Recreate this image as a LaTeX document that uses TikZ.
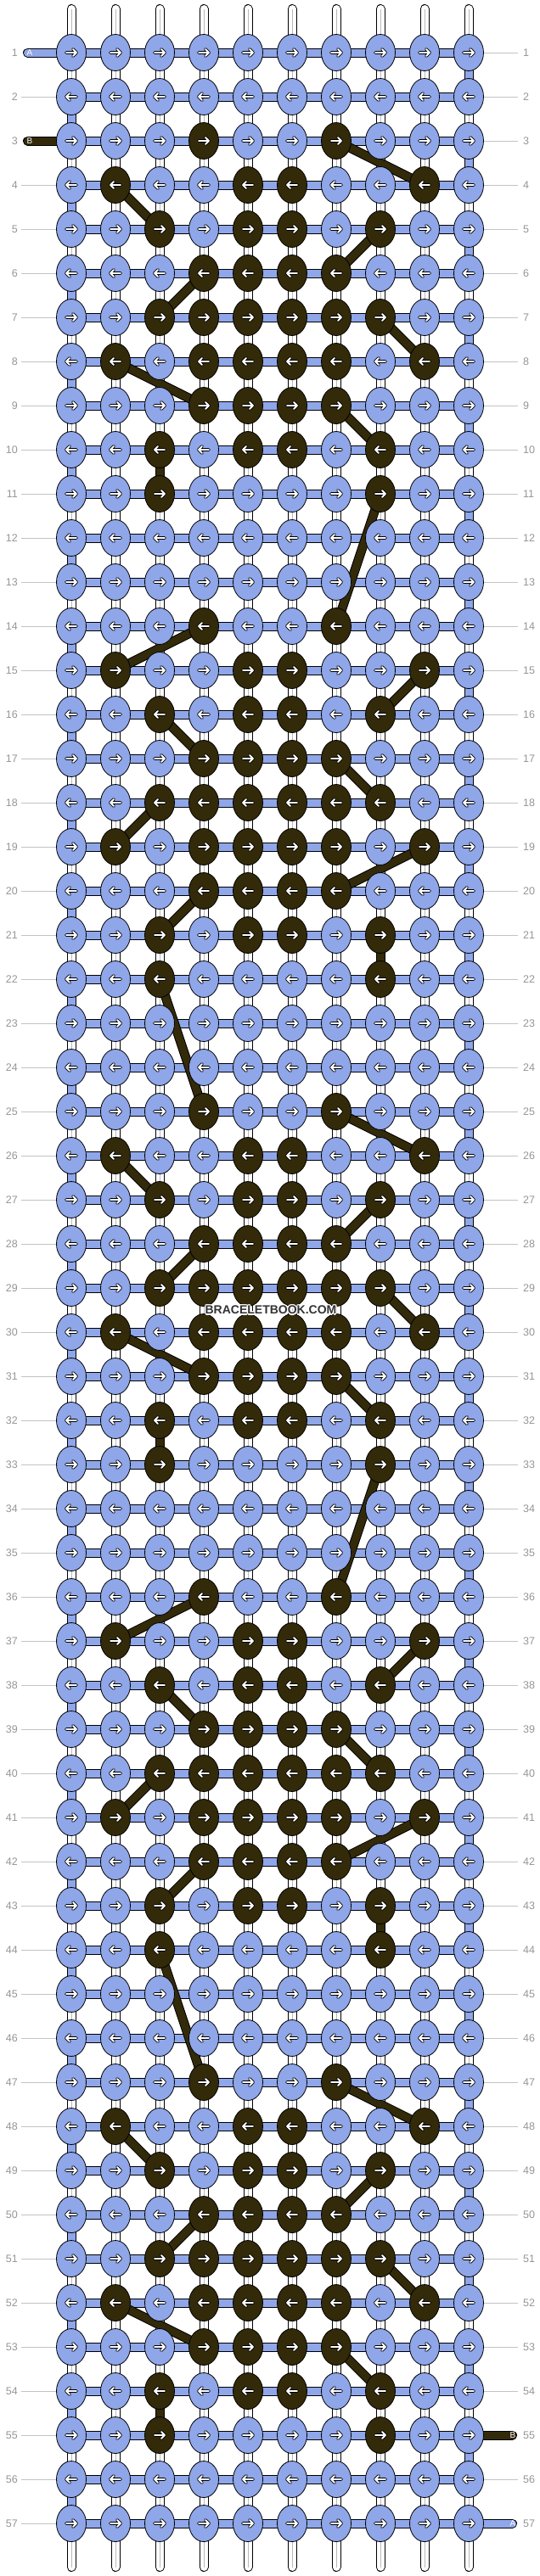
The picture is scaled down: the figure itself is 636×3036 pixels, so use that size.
\documentclass[tikz,border=0pt]{standalone}
\usepackage{fontspec}
\setmainfont{Liberation Sans}
\usetikzlibrary{shapes.geometric}
\pgfdeclarelayer{bg}
\pgfsetlayers{bg,main}
\definecolor{blueK}{RGB}{143,166,232}
\definecolor{darkK}{RGB}{51,42,10}
\definecolor{labgrey}{RGB}{150,150,150}
\definecolor{linegrey}{RGB}{195,195,195}
\definecolor{warpline}{RGB}{185,185,185}
\definecolor{wmgrey}{RGB}{51,51,51}
\newcommand\getpat[1]{\ifcase#1\relax \gdef\curpat{0,4,7}\or\gdef\curpat{0,2,5,6,9}\or\gdef\curpat{0,3,5,6,8}\or\gdef\curpat{0,4,5,6,7}\or\gdef\curpat{0,3,4,5,6,7,8}\or\gdef\curpat{0,2,4,5,6,7,9}\or\gdef\curpat{0,4,5,6,7}\or\gdef\curpat{0,3,5,6,8}\or\gdef\curpat{0,3,8}\else\gdef\curpat{0}\fi}
\newcommand\wmhalo[1]{\leavevmode\rlap{\color{white}%
 \rlap{\kern1.2pt#1}\rlap{\kern-1.2pt#1}\rlap{\raisebox{1.2pt}{#1}}\rlap{\raisebox{-1.2pt}{#1}}%
 \rlap{\kern0.85pt\raisebox{0.85pt}{#1}}\rlap{\kern-0.85pt\raisebox{0.85pt}{#1}}%
 \rlap{\kern0.85pt\raisebox{-0.85pt}{#1}}\rlap{\kern-0.85pt\raisebox{-0.85pt}{#1}}}#1}
\tikzset{
 knot/.style={ellipse, draw=black, line width=0.8pt, minimum width=35pt, minimum height=43pt, inner sep=0pt, outer sep=0pt},
 rowlab/.style={text=labgrey, font=\fontsize{12.5}{14}\selectfont, inner sep=0pt},
 rowline/.style={draw=linegrey, line width=1pt},
 warpout/.style={draw=black, line width=11pt, line cap=round},
 warpin/.style={draw=white, line width=9pt, line cap=round},
 warpmid/.style={draw=warpline, line width=1pt},
 barout/.style={draw=black, line width=11pt},
 barA/.style={draw=blueK, line width=9pt},
 barB/.style={draw=darkK, line width=9pt},
 stubout/.style={draw=black, line width=11pt, line cap=round},
 stubA/.style={draw=blueK, line width=9pt, line cap=round},
 stubB/.style={draw=darkK, line width=9pt, line cap=round},
 stublab/.style={text=white, font=\fontsize{10}{12}\selectfont, inner sep=0pt},
 wm/.style={text=wmgrey, font=\fontsize{14}{16}\selectfont\bfseries, inner sep=0pt},
 arr/.pic={
  \draw[black, line width=3.8pt, line join=round, line cap=round] (-6,0)--(6,0) (2,-4)--(6,0)--(2,4);
  \draw[white, line width=1.9pt, line join=round, line cap=round] (-6,0)--(6,0) (2,-4)--(6,0)--(2,4);
 }
}
\begin{document}
\begin{tikzpicture}[x=1pt,y=-1pt]
\useasboundingbox (0,0) rectangle (636,3036);
% knots
\foreach \r in {1,...,57}{
  \pgfmathtruncatemacro\m{mod(\r+8,11)}
  \getpat{\m}
  \foreach \c in {1,...,10}{
    \gdef\kfill{blueK}
    \foreach \x in \curpat {\ifnum\x=\c\relax\gdef\kfill{darkK}\fi}
    \node[knot, fill=\kfill] (k-\r-\c) at ({84+52*(\c-1)},{62+52*(\r-1)}) {};
  }
}
% free ends
\foreach \c in {1,...,10}{
  \coordinate (wt-\c) at ({84+52*(\c-1)},10.5);
  \coordinate (wb-\c) at ({84+52*(\c-1)},3025.5);
}
\coordinate (sA1) at (32.5,62);
\coordinate (sB3) at (32.5,166);
\coordinate (sB55) at (603.5,2870);
\coordinate (sA57) at (603.5,2974);
% row labels
\foreach \r in {1,...,57}{
  \node[rowlab, anchor=east] (ll-\r) at (21,{62+52*(\r-1)}) {\r};
  \node[rowlab, anchor=west] (rl-\r) at (616,{62+52*(\r-1)}) {\r};
}
\begin{pgfonlayer}{bg}
\fill[white] (0,0) rectangle (636,3036);
% row lines
\foreach \r in {2,4,5,...,57}{
  \draw[rowline] ([xshift=4pt]ll-\r.east) -- (k-\r-1.west);
}
\foreach \r in {1,...,54,56}{
  \draw[rowline] (k-\r-10.east) -- ([xshift=-6pt]rl-\r.west);
}
% warps
\foreach \c in {1,...,10}{
  \draw[warpout] (wt-\c) -- (wb-\c);
  \draw[warpin] (wt-\c) -- (wb-\c);
  \draw[warpmid] (wt-\c) -- (wb-\c);
}
% weft bars
\foreach \r in {1,...,57}{
  \draw[barout] (k-\r-1.center) -- (k-\r-10.center);
  \draw[barA] (k-\r-1.center) -- (k-\r-10.center);
}
% weft turns at the edges
\foreach \r [evaluate=\r as \rn using int(\r+1)] in {2,4,...,56}{
  \draw[barout] (k-\r-1.center) -- (k-\rn-1.center);
  \draw[barA] (k-\r-1.center) -- (k-\rn-1.center);
}
\foreach \r [evaluate=\r as \rn using int(\r+1)] in {1,3,...,55}{
  \draw[barout] (k-\r-10.center) -- (k-\rn-10.center);
  \draw[barA] (k-\r-10.center) -- (k-\rn-10.center);
}
% stubs
\draw[stubout] (sA1) -- (k-1-1.center);
\draw[stubA] (sA1) -- (k-1-1.center);
\draw[stubout] (sB3) -- (k-3-1.center);
\draw[stubB] (sB3) -- (k-3-1.center);
\draw[stubout] (sB55) -- (k-55-10.center);
\draw[stubB] (sB55) -- (k-55-10.center);
\draw[stubout] (sA57) -- (k-57-10.center);
\draw[stubA] (sA57) -- (k-57-10.center);
% carried string B
\def\blinks{3/7/4/9, 4/2/5/3, 5/8/6/7, 6/4/7/3, 7/8/8/9, 8/2/9/4, 9/7/10/8, 10/3/11/3,
11/8/14/7, 14/4/15/2, 15/9/16/8, 16/3/17/4, 17/7/18/8, 18/3/19/2, 19/9/20/7, 20/4/21/3, 21/8/22/8, 22/3/25/4,
25/7/26/9, 26/2/27/3, 27/8/28/7, 28/4/29/3, 29/8/30/9, 30/2/31/4, 31/7/32/8, 32/3/33/3,
33/8/36/7, 36/4/37/2, 37/9/38/8, 38/3/39/4, 39/7/40/8, 40/3/41/2, 41/9/42/7, 42/4/43/3, 43/8/44/8, 44/3/47/4,
47/7/48/9, 48/2/49/3, 49/8/50/7, 50/4/51/3, 51/8/52/9, 52/2/53/4, 53/7/54/8, 54/3/55/3}
\foreach \a/\b/\p/\q in \blinks { \draw[barout] (k-\a-\b.center) -- (k-\p-\q.center); }
\foreach \a/\b/\p/\q in \blinks { \draw[barB] (k-\a-\b.center) -- (k-\p-\q.center); }
\end{pgfonlayer}
% arrows
\foreach \r in {1,...,57}{
  \pgfmathtruncatemacro\dir{1-2*mod(\r+1,2)}
  \foreach \c in {1,...,10}{
    \pic[xscale=\dir] at (k-\r-\c) {arr};
  }
}
% stub labels
\node[stublab] (la1) at (35,62) {A};
\node[stublab] (lb3) at (35,166) {B};
\node[stublab] (lb55) at (604,2870) {B};
\node[stublab] (la57) at (604,2974) {A};
% watermark
\node[wm] (wm) at (319,1544) {\wmhalo{BRACELETBOOK.COM}};
\end{tikzpicture}
\end{document}
